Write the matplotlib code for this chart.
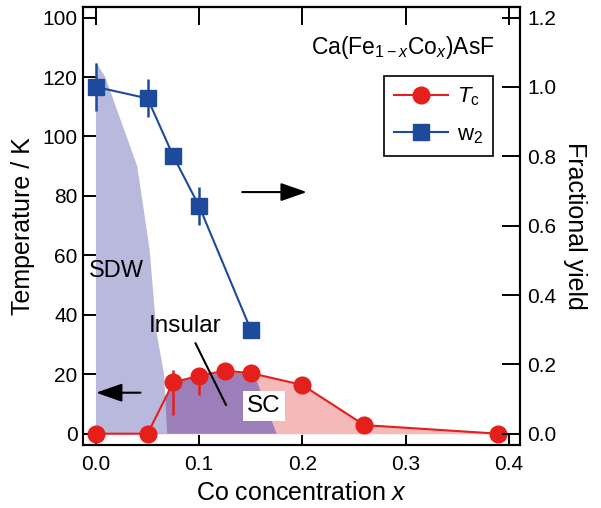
import numpy as np
import matplotlib.pyplot as plt
from matplotlib.lines import Line2D

plt.rcParams['font.family'] = 'Liberation Sans'
plt.rcParams['mathtext.fontset'] = 'custom'
plt.rcParams['mathtext.rm'] = 'Liberation Sans'
plt.rcParams['mathtext.it'] = 'Liberation Sans:italic'

# superconducting Tc (left axis, K)
x_tc = [0.0, 0.05, 0.075, 0.1, 0.125, 0.15, 0.2, 0.26, 0.39]
tc = [0, 0, 17.3, 19.5, 21.2, 20.4, 16.4, 2.9, 0]
tc_err_lo = [0, 0, 11, 6.5, 0, 0, 0, 0, 0]
tc_err_hi = [0, 0, 4, 2, 0, 0, 0, 0, 0]

# w2 fractional yield (right axis)
x_w2 = [0.0, 0.05, 0.075, 0.1, 0.15]
w2 = [1.0, 0.967, 0.80, 0.656, 0.30]
w2_err = [0.07, 0.055, 0.02, 0.055, 0.015]

# phase regions
sdw_x = [0.0, 0.009, 0.04, 0.052, 0.0587, 0.066, 0.069]
sdw_t = [125, 120, 90, 62, 34, 20, 0]
ins_x = [0.05, 0.075, 0.1, 0.125, 0.153, 0.175]
ins_t = [0, 17.3, 19.5, 20.4, 20.4, 0]

x_ticks = [0.0, 0.1, 0.2, 0.3, 0.4]
x_labels = ['0.0', '0.1', '0.2', '0.3', '0.4']
t_ticks = [0, 20, 40, 60, 80, 100, 120, 140]
t_labels = ['0', '20', '40', '60', '80', '100', '120', '100']
f_ticks = [0.0, 0.2, 0.4, 0.6, 0.8, 1.0, 1.2]
f_labels = ['0.0', '0.2', '0.4', '0.6', '0.8', '1.0', '1.2']

red = '#e41f1c'
blue = '#1d4a9a'

fig = plt.figure(figsize=(6.01, 5.08), dpi=100)
ax = fig.add_axes([0.138, 0.124, 0.728, 0.863])
ax2 = ax.twinx()

# shaded regions
ax.fill_between(x_tc, tc, 0, color='#f5b9b9', lw=0, zorder=1)
ax.fill(ins_x, ins_t, color='#9c7fb8', lw=0, zorder=2)
ax.fill(sdw_x + [0.0], sdw_t + [0], color='#b9b9dd', lw=0, zorder=3)

ax.errorbar(x_tc, tc, yerr=[tc_err_lo, tc_err_hi], color=red, marker='o',
            markersize=12, lw=1.5, elinewidth=1.8, capsize=0, zorder=5)
ax2.errorbar(x_w2, w2, yerr=w2_err, color=blue, marker='s', markersize=12,
             lw=1.5, elinewidth=1.8, capsize=0, zorder=5)

# labels and arrows
ax.text(-0.0068, 54.7, 'SDW', fontsize=17, ha='left', va='center', zorder=6)
ax.text(0.086, 36.2, 'Insular', fontsize=17.5, ha='center', va='center', zorder=6)
ax.plot([0.0965, 0.126], [30.4, 9.7], color='k', lw=1.5, zorder=6)
ax.text(0.1626, 9.3, 'SC', fontsize=17.5, ha='center', va='center', zorder=6,
        bbox=dict(facecolor='white', edgecolor='none', pad=3))
ax.annotate('', xy=(-0.0026, 13.8), xytext=(0.0458, 13.8), zorder=6,
            arrowprops=dict(arrowstyle='-|>,head_length=0.8,head_width=0.28',
                            color='k', lw=1.5, mutation_scale=20))
ax.annotate('', xy=(0.207, 81.3), xytext=(0.139, 81.3), zorder=6,
            arrowprops=dict(arrowstyle='-|>,head_length=0.8,head_width=0.28',
                            color='k', lw=1.5, mutation_scale=20))
ax.text(0.2088, 129.8, r'Ca(Fe$_{\mathrm{1-}x}$Co$_{x}$)AsF', fontsize=16.5,
        ha='left', va='center')

ax.set_xlim(-0.0126, 0.4113)
ax.set_ylim(-3.8, 143.7)
ax2.set_ylim(-3.8 / 116.67, 143.7 / 116.67)

ax.set_xticks(x_ticks)
ax.set_xticklabels(x_labels)
ax.set_yticks(t_ticks)
ax.set_yticklabels(t_labels)
ax2.set_yticks(f_ticks)
ax2.set_yticklabels(f_labels)

ax.tick_params(axis='x', direction='in', length=7, width=1.4, labelsize=15, pad=7)
ax.tick_params(axis='y', direction='in', length=9, width=1.4, labelsize=15, pad=4)
ax2.tick_params(axis='y', direction='in', length=13, width=1.4, labelsize=15, pad=5)
top = ax.secondary_xaxis('top')
top.set_xticks(x_ticks)
top.tick_params(direction='in', length=13, width=1.4, labeltop=False)

for a in (ax, ax2):
    for s in a.spines.values():
        s.set_linewidth(1.5)
top.spines['top'].set_linewidth(1.5)

ax.set_xlabel('Co concentration $x$', fontsize=18, labelpad=5)
ax.set_ylabel('Temperature / K', fontsize=18, labelpad=5)
ax2.set_ylabel('Fractional yield', fontsize=18, rotation=270, labelpad=22)

# legend entries without the error-bar stubs
handles = [Line2D([], [], color=red, marker='o', markersize=12, lw=1.5),
           Line2D([], [], color=blue, marker='s', markersize=12, lw=1.5)]
leg = ax2.legend(handles, [r'$T_\mathrm{c}$', r'w$_2$'], loc='upper right',
                 bbox_to_anchor=(0.937, 0.842), borderaxespad=0,
                 fontsize=16, fancybox=False, edgecolor='k', framealpha=1,
                 handlelength=2.4, handletextpad=0.4, labelspacing=0.7, borderpad=0.45)
leg.get_frame().set_linewidth(1.2)

plt.savefig('out.png', dpi=100)
